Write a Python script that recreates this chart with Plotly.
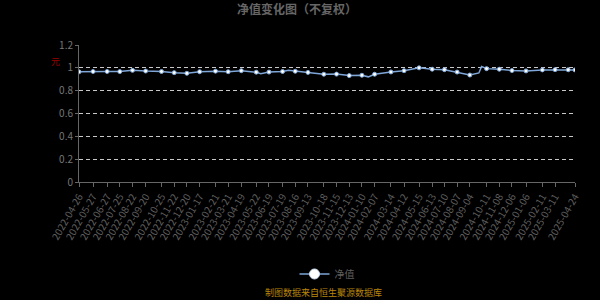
import plotly.graph_objects as go

# Tick label dates (category labels shown on the x axis)
tick_dates = [
    "2022-04-26", "2022-05-27", "2022-06-27", "2022-07-25", "2022-08-22", "2022-09-20",
    "2022-10-25", "2022-11-22", "2022-12-20", "2023-01-17", "2023-02-21", "2023-03-21",
    "2023-04-19", "2023-05-22", "2023-06-19", "2023-07-19", "2023-08-16", "2023-09-13",
    "2023-10-18", "2023-11-15", "2023-12-13", "2024-01-10", "2024-02-07", "2024-03-14",
    "2024-04-12", "2024-05-15", "2024-06-13", "2024-07-10", "2024-08-07", "2024-09-04",
    "2024-10-11", "2024-11-08", "2024-12-06", "2025-01-06", "2025-02-11", "2025-03-11",
    "2025-04-24",
]

# Sampled points (shown with symbols)
sample_dates = [
    "2022-04-26", "2022-05-27", "2022-06-27", "2022-07-25", "2022-08-22", "2022-09-20",
    "2022-10-25", "2022-11-22", "2022-12-20", "2023-01-17", "2023-02-21", "2023-03-21",
    "2023-04-19", "2023-05-22", "2023-06-19", "2023-07-19", "2023-08-16", "2023-09-13",
    "2023-10-18", "2023-11-15", "2023-12-13", "2024-01-10", "2024-02-07", "2024-03-14",
    "2024-04-12", "2024-05-15", "2024-06-13", "2024-07-10", "2024-08-07", "2024-09-04",
    "2024-10-11", "2024-11-08", "2024-12-06", "2025-01-06", "2025-02-11", "2025-03-11",
    "2025-04-09", "2025-04-24",
]
sample_nav = [
    0.965, 0.968, 0.968, 0.967, 0.978, 0.972,
    0.968, 0.958, 0.952, 0.966, 0.971, 0.966,
    0.975, 0.962, 0.963, 0.968, 0.970, 0.960,
    0.944, 0.945, 0.932, 0.935, 0.944, 0.964,
    0.975, 1.000, 0.988, 0.984, 0.963, 0.937,
    0.993, 0.988, 0.976, 0.973, 0.982, 0.984,
    0.983, 0.982,
]

# Other daily points visible as features of the line (no symbols)
extra_dates = ["2023-06-01", "2023-08-01", "2024-01-24", "2024-09-24", "2024-09-30"]
extra_nav = [0.948, 0.978, 0.921, 0.955, 1.012]

pairs = sorted(zip(sample_dates + extra_dates, sample_nav + extra_nav))
all_dates = [p[0] for p in pairs]
all_nav = [p[1] for p in pairs]

line_color = "#7ea6d8"
font_family = "Noto Sans CJK SC, Noto Sans, sans-serif"

fig = go.Figure()
fig.add_trace(go.Scatter(
    x=all_dates, y=all_nav, mode="lines",
    line=dict(color=line_color, width=1.5),
    showlegend=False, hoverinfo="skip",
))
fig.add_trace(go.Scatter(
    x=sample_dates, y=sample_nav, mode="markers",
    marker=dict(size=4, color="#ffffff", line=dict(color=line_color, width=1)),
    showlegend=False, name="净值",
))
fig.add_trace(go.Scatter(
    x=[None], y=[None], mode="lines+markers", name="净值",
    line=dict(color=line_color, width=1.5),
    marker=dict(size=10, color="#ffffff", line=dict(color="#cfe0f5", width=1)),
))

fig.update_layout(
    width=600, height=300,
    paper_bgcolor="#000000", plot_bgcolor="#000000",
    margin=dict(l=79, r=25, t=45, b=115),
    font=dict(family=font_family, color="#777777", size=10),
    title=dict(
        text="<b>净值变化图（不复权）</b>", x=0.495, xanchor="center",
        y=0.968, yanchor="middle",
        font=dict(size=12, color="#666666", family=font_family),
    ),
    xaxis=dict(
        type="date",
        range=["2022-04-26", "2025-04-24"],
        tickmode="array", tickvals=tick_dates, ticktext=tick_dates,
        tickangle=-60, tickfont=dict(size=10, color="#5e5e5e"),
        showgrid=False, zeroline=False,
        showline=True, linecolor="#666666", linewidth=1,
        ticks="outside", ticklen=4, tickcolor="#666666",
    ),
    yaxis=dict(
        range=[0, 1.2], tickvals=[0, 0.2, 0.4, 0.6, 0.8, 1, 1.2],
        ticktext=["0", "0.2", "0.4", "0.6", "0.8", "1", "1.2"],
        tickfont=dict(size=10, color="#777777"),
        showgrid=True, gridcolor="#c8c8c8", gridwidth=1, griddash="4px,3px",
        zeroline=False,
        showline=True, linecolor="#666666", linewidth=1,
        ticks="outside", ticklen=3, tickcolor="#666666",
    ),
    legend=dict(
        orientation="h", x=0.5, xanchor="center",
        y=(185 - 279) / 140, yanchor="middle",
        font=dict(size=10, color="#5e5e5e"), bgcolor="rgba(0,0,0,0)",
    ),
    annotations=[
        dict(text="元", x=(55 - 79) / 496, y=(185 - 62) / 140, xref="paper", yref="paper",
             showarrow=False, font=dict(size=9, color="#9a0000"), xanchor="center", yanchor="middle"),
        dict(text="制图数据来自恒生聚源数据库", x=0.5 - 4 / 496, y=(185 - 298) / 140,
             xref="paper", yref="paper", showarrow=False,
             font=dict(size=9, color="#b8860b"), xanchor="center", yanchor="middle"),
    ],
)

fig.write_html("out.html")
